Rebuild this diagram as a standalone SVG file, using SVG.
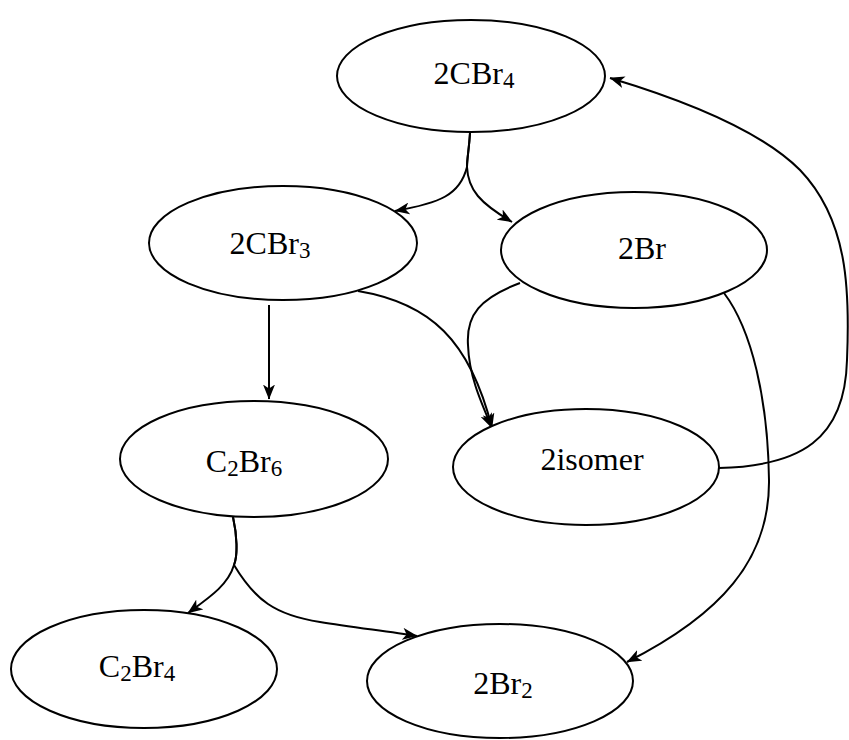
<svg xmlns="http://www.w3.org/2000/svg" width="849" height="740" viewBox="0 0 849 740">
<style>
.node ellipse{fill:#fff;stroke:#000;stroke-width:2}
.node text{font-family:"Liberation Serif","Times New Roman",serif;font-size:32px;fill:#000;text-anchor:middle}
.sub{font-size:23px}
.edge{fill:none;stroke:#000;stroke-width:2;marker-end:url(#arr)}
</style>
<defs>
<marker id="arr" viewBox="0 0 15 12" refX="14.5" refY="6" markerWidth="15" markerHeight="12" markerUnits="userSpaceOnUse" orient="auto">
<path d="M0,0 L15,6 L0,12 L4,6 Z" fill="#000"/>
</marker>
</defs>
<rect width="849" height="740" fill="#fff"/>
<g id="connectors">
<path class="edge" d="M470,133 C469,150 467,158 467,167 C460,195 440,203 395,211"/>
<path class="edge" d="M470,133 C469,150 467,158 467,167 C468,190 480,203 512,222"/>
<path class="edge" d="M269,305 L269,399"/>
<path class="edge" d="M358,291 C430,303 470,340 492,428"/>
<path class="edge" d="M520,283 C480,298 466,315 468,345 C469,375 480,400 492,428"/>
<path class="edge" d="M724,293 C752,330 768,400 769,480 C770,560 720,615 627,662"/>
<path class="edge" d="M719,468 C800,466 845,440 847,360 C850,290 848,220 800,170 C765,135 700,105 610,78"/>
<path class="edge" d="M233,517 C237,535 238,555 234,565 C228,585 210,597 188,613"/>
<path class="edge" d="M233,517 C237,535 238,555 234,565 C255,600 275,615 320,622 C350,627 385,631 417,636"/>
</g>
<g id="n_2CBr4" class="node"><ellipse cx="471" cy="76" rx="134" ry="56"/><text x="474" y="84">2CBr<tspan class="sub" dy="4">4</tspan></text></g>
<g id="n_2CBr3" class="node"><ellipse cx="283" cy="243" rx="134" ry="57"/><text x="270" y="254">2CBr<tspan class="sub" dy="4">3</tspan></text></g>
<g id="n_2Br" class="node"><ellipse cx="634" cy="250" rx="133" ry="58"/><text x="642" y="259">2Br</text></g>
<g id="n_C2Br6" class="node"><ellipse cx="254" cy="459" rx="134" ry="58"/><text x="244" y="472">C<tspan class="sub" dy="4">2</tspan><tspan dy="-4">Br</tspan><tspan class="sub" dy="4">6</tspan></text></g>
<g id="n_2isomer" class="node"><ellipse cx="586" cy="467" rx="133" ry="58"/><text x="592" y="470">2isomer</text></g>
<g id="n_C2Br4" class="node"><ellipse cx="144" cy="669" rx="133" ry="59"/><text x="137" y="677">C<tspan class="sub" dy="4">2</tspan><tspan dy="-4">Br</tspan><tspan class="sub" dy="4">4</tspan></text></g>
<g id="n_2Br2" class="node"><ellipse cx="500" cy="681" rx="133" ry="57"/><text x="503" y="694">2Br<tspan class="sub" dy="4">2</tspan></text></g>
</svg>
